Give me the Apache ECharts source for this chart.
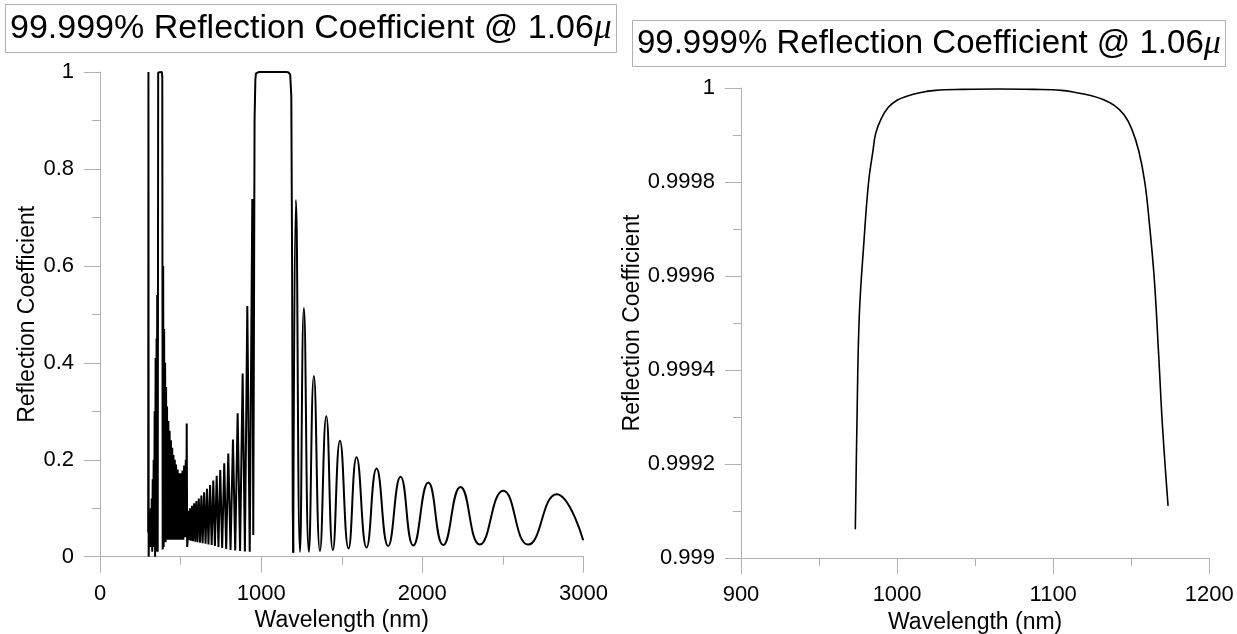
<html>
<head>
<meta charset="utf-8" />
<title>Reflection coefficient</title>
<script src="https://cdn.jsdelivr.net/npm/echarts@6/dist/echarts.min.js"></script>
<style type="text/css">
body { margin: 0; background: #fff; }
#echarts { width: 1237px; height: 634px; }
</style>
</head>
<body>
<div id="echarts"></div>
<script type="text/javascript">

// wavelength (nm) / reflection coefficient
// short side of the stop band (dense fringes)
var shortWl = [299, 300.5, 302, 305, 307, 310, 312, 315, 318, 321, 324, 327, 330, 333, 336, 339, 342, 345, 348, 351, 353, 355, 358,
    361, 363, 384, 386.5, 389, 392, 395, 398, 401, 404, 407, 410, 413, 416, 420, 424, 428, 432, 436, 440, 444, 448, 452, 456, 460,
    464, 468, 472, 477, 482, 487, 492, 497, 502, 507, 512, 517, 522, 527, 532, 535, 538, 541,
    543, 548, 553, 559, 565, 571, 577, 584, 591, 598, 605, 613, 621, 629, 637, 646, 655, 664, 673, 683, 693, 703, 713, 724, 735,
    746, 758, 771, 783, 796, 810, 825, 839, 854, 869, 885, 899, 914, 929, 945, 951, 955, 959, 964, 968];
var shortR = [0.05, 1.0, 0.0, 0.07, 0.02, 0.08, 0.03, 0.1, 0.02, 0.12, 0.01, 0.16, 0.03, 0.2, 0.02, 0.3, 0.0, 0.41, 0.02, 0.45, 0.01, 0.54, 0.01,
    0.999, 1.0, 1.0, 0.99, 0.015, 0.6, 0.02, 0.47, 0.03, 0.4, 0.03, 0.35, 0.035, 0.31, 0.035, 0.28, 0.035, 0.26, 0.035, 0.24, 0.035, 0.225, 0.035, 0.21, 0.035,
    0.2, 0.035, 0.19, 0.035, 0.18, 0.035, 0.172, 0.035, 0.172, 0.035, 0.178, 0.035, 0.188, 0.04, 0.2, 0.04, 0.275, 0.02,
    0.03, 0.095, 0.034, 0.1, 0.033, 0.105, 0.032, 0.11, 0.031, 0.115, 0.03, 0.12, 0.029, 0.126, 0.028, 0.133, 0.027, 0.14, 0.025, 0.148, 0.024, 0.157, 0.022, 0.167, 0.02,
    0.179, 0.018, 0.193, 0.016, 0.213, 0.014, 0.242, 0.013, 0.296, 0.012, 0.378, 0.011, 0.517, 0.01, 0.738, 0.045, 0.45, 0.9, 0.985, 0.997];

// high reflection band (shown in both panels)
var bandWl = [973.24, 974.25, 975.76, 978.69, 981.71, 984.48, 986.33, 989.85, 994.38, 999.92, 1005.71, 1014.51, 1024.58, 1042.2,
    1064.85, 1087.5, 1105.1, 1115.2, 1124.0, 1131.5, 1139.1, 1145.4, 1150.4, 1154.9, 1158.7, 1161.7, 1164.8, 1167.5, 1170.0, 1173.6];
var bandR = [0.999061, 0.999281, 0.999514, 0.99967, 0.999799, 0.999865, 0.999904, 0.999935, 0.999959, 0.999974, 0.999982, 0.99999, 0.999995, 0.999997,
    0.999998, 0.999997, 0.999995, 0.99999, 0.999984, 0.999976, 0.999963, 0.999943, 0.999912, 0.999865, 0.999799, 0.999709, 0.999592, 0.999436, 0.999281, 0.999111];

// long side edge
var fallWl = [1180, 1187, 1192, 1196, 1199];
var fallR = [0.995, 0.95, 0.6, 0.1, 0.008];

// long side fringes (peaks and troughs)
var tailWl = [1199, 1216, 1241, 1265, 1296, 1327, 1365, 1404, 1445, 1489, 1542, 1592, 1654, 1716, 1788, 1865, 1944, 2037, 2130, 2237, 2357, 2502, 2657, 2833, 2998];
var tailR = [0.008, 0.736, 0.01, 0.513, 0.01, 0.373, 0.012, 0.29, 0.014, 0.239, 0.017, 0.205, 0.019, 0.182, 0.022, 0.165, 0.023, 0.153, 0.024, 0.144, 0.025, 0.136, 0.025, 0.129, 0.034];

var titleText = '99.999% Reflection Coefficient @ 1.06';
var xName = 'Wavelength (nm)';
var yName = 'Reflection Coefficient';

function pairs(xs, ys) {
    return xs.map(function (x, i) { return [x, ys[i]]; });
}

var myChart = echarts.init(document.getElementById('echarts'));

var font = 'Liberation Sans, Arial, sans-serif';
var axisGray = '#b0b0b0';

function titleBox(left, top, size) {
    return {
        text: '{a|' + titleText + '}{m|\u03bc}',
        left: left,
        top: top,
        padding: [7, 5, 6, 5],
        borderColor: axisGray,
        borderWidth: 1,
        textStyle: {
            fontWeight: 'normal',
            rich: {
                a: { fontFamily: font, fontWeight: 'normal', fontSize: size, color: '#000', lineHeight: 40 },
                m: { fontFamily: 'Liberation Serif, serif', fontWeight: 'normal', fontStyle: 'italic', fontSize: size + 1, color: '#000', lineHeight: 40 }
            }
        }
    };
}

function valueAxis(idx, min, max, interval, nameGap, extra) {
    var ax = {
        type: 'value',
        gridIndex: idx,
        min: min,
        max: max,
        interval: interval,
        name: '',
        nameLocation: 'middle',
        nameGap: nameGap,
        nameTextStyle: { fontFamily: font, fontSize: 23, color: '#000' },
        axisLine: { show: true, onZero: false, lineStyle: { color: axisGray, width: 1 } },
        axisTick: { show: true, length: 16, lineStyle: { color: axisGray } },
        minorTick: { show: true, splitNumber: 2, length: 8, lineStyle: { color: axisGray } },
        splitLine: { show: false },
        axisLabel: {
            fontFamily: font, fontSize: 22, color: '#000', margin: 26,
            formatter: function (v) { return String(+v.toFixed(4)); }
        }
    };
    for (var k in extra) ax[k] = extra[k];
    return ax;
}

var option = {
    animation: false,
    backgroundColor: '#fff',
    title: [titleBox(5, 2, 34), titleBox(632, 17, 33)],
    grid: [
        { left: 100, top: 72, width: 483.5, height: 484.7, containLabel: false, outerBoundsMode: 'none' },
        { left: 741, top: 88, width: 468.3, height: 470, containLabel: false, outerBoundsMode: 'none' }
    ],
    xAxis: [
        valueAxis(0, 0, 3000, 1000, 44, { name: xName }),
        valueAxis(1, 900, 1200, 100, 45, { name: xName })
    ],
    yAxis: [
        valueAxis(0, 0, 1, 0.2, 52, { name: yName }),
        valueAxis(1, 0.999, 1, 0.0002, 89, { name: yName })
    ],
    series: [
        {
            type: 'line', xAxisIndex: 0, yAxisIndex: 0, showSymbol: false,
            lineStyle: { color: '#000', width: 2 },
            data: pairs(shortWl, shortR).concat(pairs(bandWl, bandR), pairs(fallWl, fallR))
        },
        {
            type: 'line', xAxisIndex: 0, yAxisIndex: 0, showSymbol: false, smooth: 0.5,
            lineStyle: { color: '#000', width: 2 },
            data: pairs(tailWl, tailR)
        },
        {
            type: 'line', xAxisIndex: 1, yAxisIndex: 1, showSymbol: false, smooth: 0.4,
            lineStyle: { color: '#000', width: 1.6 },
            data: pairs(bandWl, bandR)
        }
    ]
};

myChart.setOption(option);

</script>
</body>
</html>
